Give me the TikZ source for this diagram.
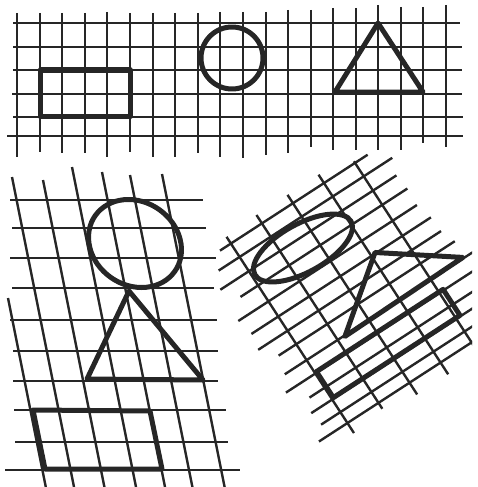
\documentclass[tikz,border=0pt]{standalone}
\usepackage{tikz}
\begin{document}
\begin{tikzpicture}[
  x=1pt, y=-1pt,
  gl/.style={draw=black!85, line width=2.4pt},
  fig/.style={draw=black!85, line width=5pt, line join=round}
]
  \useasboundingbox (0,0) rectangle (477,487);
  % top sheet
  \foreach \x/\a/\b in {17/13/157, 40/13/152, 62/13/153, 85/13/153, 107/12/157,
      130/13/152, 153/13/157, 175/13/157, 198/13/153, 220/12/157, 243/12/158, 266/12/155,
      288/10/153, 311/10/147, 333/8/150, 356/8/150, 378/5/150, 401/7/150, 423/7/143, 446/5/147}
    \draw[gl] (\x,\a) -- (\x,\b);
  \foreach \y/\a/\b in {23/13/460, 47/13/462, 70/13/462, 94/12/462, 117/13/463, 136/7/463}
    \draw[gl] (\a,\y) -- (\b,\y);
  \draw[fig] (40,70) rectangle (130,116.5);
  \draw[fig] (232,58) circle[radius=31];
  \draw[fig] (378,23) -- (423,92) -- (335,92) -- cycle;

  % slanted sheet
  \foreach \y/\a/\b in {200/10/203, 228/12/206, 258/10/216, 288/12/214, 320/10/217,
      351/13/218, 381/13/218, 410/14/226, 442/15/228, 470/5/240}
    \draw[gl] (\a,\y) -- (\b,\y);
  \foreach \x/\y in {8/298, 12/177, 43/180, 72/167, 102/172, 130/175, 162/174}
    \draw[gl] (\x,\y) -- ({\x+0.2*(487-\y)},487);
  \draw[fig, shift={(135,243.5)}, xslant=-0.15] (0,0) ellipse[x radius=46, y radius=44];
  \draw[fig] (129,291) -- (203,380) -- (87,379) -- cycle;
  \draw[fig] (33,410) -- (150,411) -- (162,469) -- (45,469) -- cycle;

  % turned sheet
  \begin{scope}
    \clip (0,0) rectangle (472,487);
    \begin{scope}[rotate=33]
      \foreach \t/\a/\b in {330/48/224, 346/36/243, 363/27/237, 380/40/239, 399/25/238,
          417/29/243, 434/26/244, 450/40/250, 469/35/260, 485/26/270, 502/43/270,
          516/36/270, 531/38/270, 544/27/270}
        \draw[gl] (\a,\t) -- (\b,\t);
      \foreach \s/\a/\b in {61/322/556, 98/320/551, 135/320/558, 172/320/558, 209/328/560}
        \draw[gl] (\s,\a) -- (\s,\b);
      \draw[fig] (119,373) ellipse[x radius=55, y radius=24, rotate=-4];
      \draw[fig] (177,416) -- (248,468) -- (106,470) -- cycle;
      \draw[fig] (63,484) rectangle (214,515);
    \end{scope}
  \end{scope}
\end{tikzpicture}
\end{document}
